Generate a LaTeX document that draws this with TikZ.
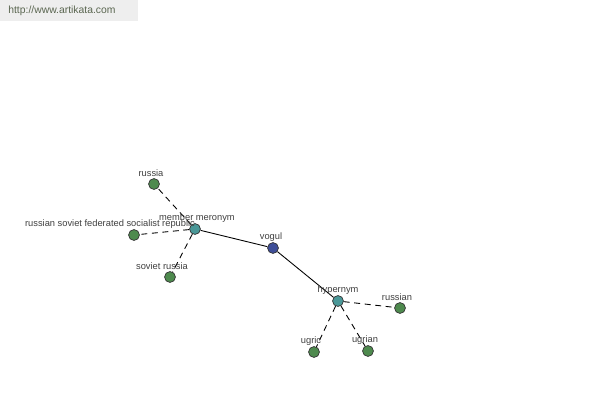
\documentclass[tikz,border=0pt]{standalone}
\usepackage{fontspec}
\setmainfont{Liberation Sans}
\begin{document}
\begin{tikzpicture}[x=0.02cm,y=-0.02cm,
  dot/.style={circle,draw=black!80,line width=0.4pt,minimum size=6.2pt,inner sep=0pt},
  leaf/.style={dot,fill=leafgreen},
  rel/.style={dot,fill=relteal},
  root/.style={dot,fill=rootblue},
  lbl/.style={font=\fontsize{5.3}{6}\selectfont,text=black!75,inner sep=0pt},
  solidedge/.style={draw=black,line width=0.5pt},
  dashedge/.style={draw=black,line width=0.5pt,dash pattern=on 3.4pt off 2.6pt}]
\definecolor{leafgreen}{HTML}{4E8A4E}
\definecolor{relteal}{HTML}{4A9898}
\definecolor{rootblue}{HTML}{3E4E98}
\definecolor{hdrbg}{HTML}{EEEEEE}
\definecolor{hdrtext}{HTML}{5A6650}
\useasboundingbox[fill=white] (0,0) rectangle (600,400);
\fill[hdrbg] (0,0) rectangle (138,21);
\node[font=\fontsize{5.9}{7}\selectfont,text=hdrtext,anchor=west,inner sep=0pt] (url) at (8,11) {http://www.artikata.com};
% nodes
\node[root] (vogul) at (273,248) {};
\node[rel] (mm) at (195,229) {};
\node[rel] (hyp) at (338,301) {};
\node[leaf] (russia) at (154,184) {};
\node[leaf] (rsfsr) at (134,235) {};
\node[leaf] (sr) at (170,277) {};
\node[leaf] (russian) at (400,308) {};
\node[leaf] (ugric) at (314,352) {};
\node[leaf] (ugrian) at (368,351) {};
% edges
\draw[solidedge] (mm) -- (vogul);
\draw[solidedge] (vogul) -- (hyp);
\draw[dashedge] (mm) -- (russia);
\draw[dashedge] (mm) -- (rsfsr);
\draw[dashedge] (mm) -- (sr);
\draw[dashedge] (hyp) -- (russian);
\draw[dashedge] (hyp) -- (ugric);
\draw[dashedge] (hyp) -- (ugrian);
% labels
\node[lbl] (lvogul) at (271,237) {vogul};
\node[lbl] (lmm) at (197,218) {member meronym};
\node[lbl] (lhyp) at (338,290) {hypernym};
\node[lbl] (lrussia) at (151,173) {russia};
\node[lbl] (lrsfsr) at (110,224) {russian soviet federated socialist republic};
\node[lbl] (lsr) at (162,266) {soviet russia};
\node[lbl] (lrussian) at (397,297) {russian};
\node[lbl] (lugric) at (311,341) {ugric};
\node[lbl] (lugrian) at (365,340) {ugrian};
\end{tikzpicture}
\end{document}
